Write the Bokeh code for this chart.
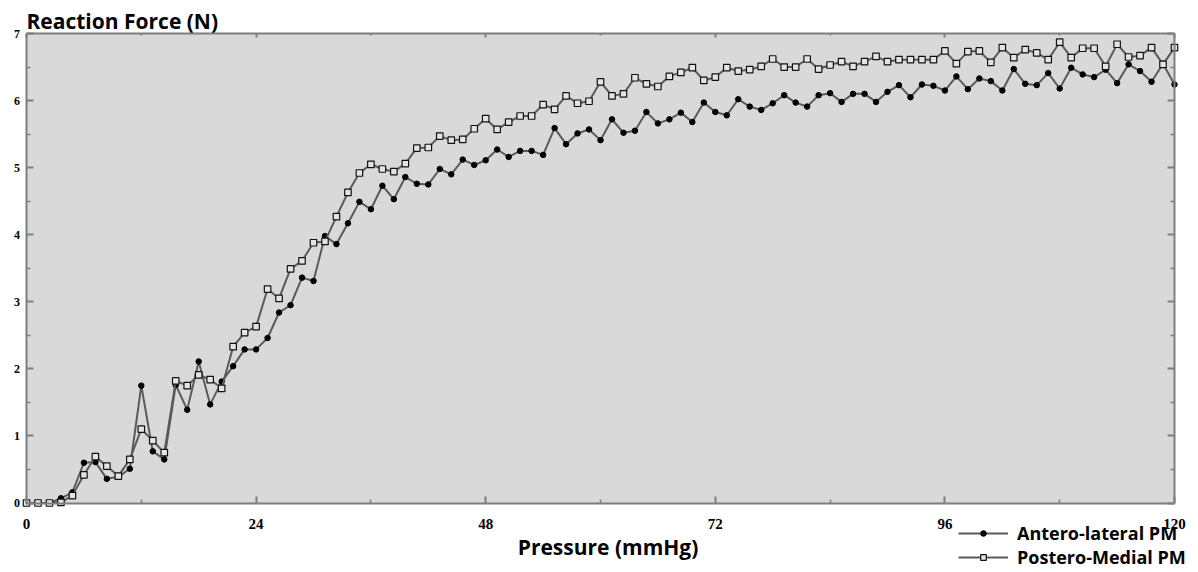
import numpy as np
from bokeh.plotting import figure
from bokeh.models import (LinearAxis, FixedTicker, Range1d, Label, LabelSet, Legend, LegendItem,
                          CustomJSTickFormatter, BoxAnnotation, ColumnDataSource)
from bokeh.embed import file_html
from bokeh.resources import INLINE

# ---- data ----
pressure = np.round(np.arange(101) * 1.2, 1)  # mmHg sampling grid 0..120

antero_lateral = [
    0.00, 0.00, 0.00, 0.07, 0.16,
    0.60, 0.61, 0.36, 0.39, 0.51,
    1.75, 0.77, 0.65, 1.76, 1.39,
    2.11, 1.47, 1.81, 2.04, 2.29,
    2.29, 2.46, 2.84, 2.95, 3.36,
    3.31, 3.98, 3.86, 4.17, 4.49,
    4.38, 4.73, 4.53, 4.86, 4.76,
    4.75, 4.98, 4.90, 5.12, 5.04,
    5.11, 5.27, 5.16, 5.25, 5.25,
    5.19, 5.59, 5.35, 5.51, 5.57,
    5.41, 5.72, 5.52, 5.55, 5.83,
    5.66, 5.72, 5.82, 5.68, 5.97,
    5.83, 5.78, 6.02, 5.91, 5.86,
    5.96, 6.08, 5.97, 5.91, 6.08,
    6.11, 5.98, 6.10, 6.10, 5.98,
    6.13, 6.23, 6.05, 6.24, 6.22,
    6.15, 6.36, 6.17, 6.33, 6.29,
    6.15, 6.47, 6.25, 6.23, 6.41,
    6.18, 6.49, 6.39, 6.35, 6.46,
    6.26, 6.54, 6.44, 6.28, 6.55,
    6.24,
]

postero_medial = [
    0.00, 0.00, 0.00, 0.01, 0.11,
    0.42, 0.69, 0.55, 0.40, 0.65,
    1.10, 0.93, 0.75, 1.82, 1.75,
    1.91, 1.84, 1.71, 2.33, 2.54,
    2.63, 3.19, 3.05, 3.49, 3.61,
    3.88, 3.90, 4.27, 4.63, 4.92,
    5.05, 4.98, 4.94, 5.06, 5.29,
    5.30, 5.47, 5.41, 5.42, 5.58,
    5.73, 5.57, 5.68, 5.77, 5.77,
    5.94, 5.87, 6.07, 5.96, 5.99,
    6.28, 6.07, 6.10, 6.34, 6.25,
    6.21, 6.36, 6.42, 6.49, 6.30,
    6.35, 6.49, 6.44, 6.46, 6.51,
    6.62, 6.50, 6.50, 6.62, 6.47,
    6.53, 6.58, 6.51, 6.58, 6.66,
    6.58, 6.61, 6.61, 6.61, 6.61,
    6.74, 6.55, 6.73, 6.74, 6.57,
    6.79, 6.64, 6.76, 6.71, 6.61,
    6.87, 6.64, 6.78, 6.78, 6.51,
    6.84, 6.65, 6.67, 6.79, 6.54,
    6.79,
]

x_major_ticks = [0, 24, 48, 72, 96, 120]
x_minor_ticks = [12, 36, 60, 84, 108]
y_major_ticks = [0, 1, 2, 3, 4, 5, 6, 7]
y_minor_ticks = [0.5, 1.5, 2.5, 3.5, 4.5, 5.5, 6.5]

series_names = ["Antero-lateral PM", "Postero-Medial PM"]
y_title = "Reaction Force (N)"
x_title = "Pressure (mmHg)"

# ---- layout constants (pixels) ----
W, H = 1190, 572
B = 4                              # thin border around the (full-canvas) frame
FRAME_L, FRAME_R = B, W - B
FRAME_T, FRAME_B = B, H - B
PX_X0, PX_X1 = 26, 1174            # where x=0 and x=120 sit
PX_Y0, PX_Y1 = 502.5, 33           # where y=0 and y=7 sit
XMIN, XMAX = x_major_ticks[0], x_major_ticks[-1]
YMIN, YMAX = y_major_ticks[0], y_major_ticks[-1]
SX = (PX_X1 - PX_X0) / (XMAX - XMIN)
SY = (PX_Y0 - PX_Y1) / (YMAX - YMIN)


def x_at(px):
    return XMIN + (px - PX_X0) / SX


def y_at(py):
    return YMIN + (PX_Y0 - py) / SY


FONT = "Open Sans"
AXIS_COL = "#7f7f7f"
LINE_COL = "#5a5a5a"
SQ_FILL = "#e4e4e4"
PLOT_BG = "#d9d9d9"

p = figure(width=W, height=H, output_backend="svg", toolbar_location=None,
           x_range=Range1d(x_at(FRAME_L), x_at(FRAME_R)),
           y_range=Range1d(y_at(FRAME_B), y_at(FRAME_T)),
           x_axis_location=None, y_axis_location=None,
           min_border_left=B, min_border_right=B, min_border_top=B, min_border_bottom=B)
p.background_fill_color = "white"
p.border_fill_color = "white"
p.outline_line_color = None
p.xgrid.visible = False
p.ygrid.visible = False

# grey plotting area bounded by the axis limits
p.add_layout(BoxAnnotation(left=XMIN, right=XMAX, bottom=YMIN, top=YMAX,
                           fill_color=PLOT_BG, fill_alpha=1.0, line_color=None,
                           level="underlay"))

xticker = FixedTicker(ticks=x_major_ticks, minor_ticks=x_minor_ticks)
yticker = FixedTicker(ticks=y_major_ticks, minor_ticks=y_minor_ticks)
blank = CustomJSTickFormatter(code="return ''")


def frame_axis(loc, ticker, bounds, tin=7, tmin=4):
    ax = LinearAxis(ticker=ticker, fixed_location=loc, bounds=bounds, formatter=blank)
    ax.axis_line_color = AXIS_COL
    ax.axis_line_width = 2
    ax.major_tick_line_color = AXIS_COL
    ax.minor_tick_line_color = AXIS_COL
    ax.major_tick_line_width = 2
    ax.minor_tick_line_width = 1.5
    ax.major_tick_in = tin
    ax.major_tick_out = 0
    ax.minor_tick_in = tmin
    ax.minor_tick_out = 0
    ax.major_label_standoff = 0
    ax.major_label_text_font_size = "1px"
    return ax


p.add_layout(frame_axis(YMIN, xticker, (XMIN, XMAX)), "below")
p.add_layout(frame_axis(YMAX, xticker, (XMIN, XMAX), 4, 2), "above")
p.add_layout(frame_axis(XMIN, yticker, (YMIN, YMAX)), "left")
p.add_layout(frame_axis(XMAX, yticker, (YMIN, YMAX)), "right")

# data
l1 = p.line(pressure, antero_lateral, line_color=LINE_COL, line_width=2)
s1 = p.scatter(pressure, antero_lateral, marker="circle", size=5.5,
               fill_color="black", line_color="black")
l2 = p.line(pressure, postero_medial, line_color=LINE_COL, line_width=2)
s2 = p.scatter(pressure, postero_medial, marker="square", size=6.5,
               fill_color=SQ_FILL, line_color="#111111", line_width=1.2)

TXT = dict(text_font=FONT, text_font_style="bold", text_color="black")

# x tick labels
xtick_src = ColumnDataSource(dict(x=x_major_ticks,
                                  y=[y_at(528.5)] * len(x_major_ticks),
                                  text=[str(t) for t in x_major_ticks]))
p.add_layout(LabelSet(x="x", y="y", text="text", source=xtick_src,
                      text_align="center", text_baseline="alphabetic",
                      text_font_size="15px", **TXT))

# y tick labels
ytick_src = ColumnDataSource(dict(x=[x_at(19.5)] * len(y_major_ticks),
                                  y=y_major_ticks,
                                  text=[str(t) for t in y_major_ticks]))
p.add_layout(LabelSet(x="x", y="y", text="text", source=ytick_src,
                      text_align="right", text_baseline="middle",
                      text_font_size="12px", **TXT))

# axis titles
p.add_layout(Label(x=x_at(26), y=y_at(20.5), text=y_title,
                   text_baseline="alphabetic", text_align="left",
                   text_font_size="21px", **TXT))
p.add_layout(Label(x=x_at(607.5), y=y_at(546.5), text=x_title,
                   text_baseline="alphabetic", text_align="center",
                   text_font_size="21px", **TXT))

# legend
legend = Legend(items=[LegendItem(label=series_names[0], renderers=[l1, s1]),
                       LegendItem(label=series_names[1], renderers=[l2, s2])],
                location=(958 - FRAME_L, FRAME_B - 569))
legend.background_fill_alpha = 0
legend.border_line_color = None
legend.padding = 0
legend.margin = 0
legend.spacing = -2
legend.glyph_width = 50
legend.glyph_height = 14
legend.label_height = 14
legend.label_standoff = 9
legend.label_text_font = FONT
legend.label_text_font_style = "bold"
legend.label_text_font_size = "18px"
legend.label_text_color = "black"
p.add_layout(legend, "center")

open("out.html", "w").write(file_html(p, INLINE))
